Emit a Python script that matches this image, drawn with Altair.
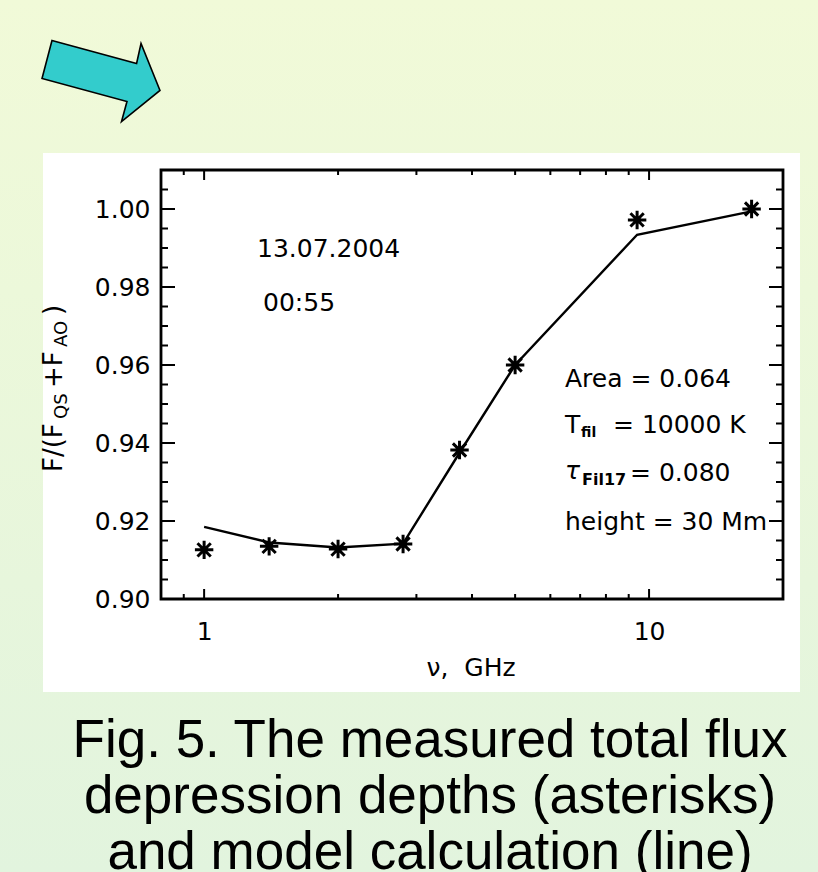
import altair as alt
import pandas as pd

# Observing frequencies, GHz
freq_ghz = [1.0, 1.4, 2.0, 2.8, 3.75, 5.0, 9.4, 17.0]
# Measured total flux depression F/(F_QS+F_AO) (asterisks)
measured = [0.9126, 0.9135, 0.9128, 0.9141, 0.9382, 0.9600, 0.9972, 1.0000]
# Model calculation (line)
model = [0.9185, 0.9145, 0.9132, 0.9142, 0.9375, 0.9600, 0.9934, 0.9994]

# Axis ticks
y_major_ticks = [0.90, 0.92, 0.94, 0.96, 0.98, 1.00]
y_minor_ticks = [0.905, 0.91, 0.915, 0.925, 0.93, 0.935, 0.945, 0.95, 0.955,
                 0.965, 0.97, 0.975, 0.985, 0.99, 0.995, 1.005]
x_major_ticks = [1, 10]
x_minor_ticks = [0.9, 2, 3, 4, 5, 6, 7, 8, 9]

# Caption lines
caption = [
    "Fig. 5. The measured total flux",
    "depression depths (asterisks)",
    "and model calculation (line)",
]

W, H = 622, 429
PAD = {"left": 161, "top": 170, "right": 35, "bottom": 273}
FONT = "DejaVu Sans"

xscale = alt.Scale(type="log", domain=[0.8, 20], nice=False)
yscale = alt.Scale(domain=[0.90, 1.01], nice=False, zero=False)

# Shared axes: labels only, ticks are drawn as inward rules below
x_axis = alt.Axis(values=x_major_ticks, format="d", ticks=False, domain=False,
                  grid=False, labelFont=FONT, labelFontSize=25,
                  labelColor="black", labelPadding=20, labelFlush=False,
                  title=None, zindex=1)
y_axis = alt.Axis(values=y_major_ticks, format=".2f", ticks=False,
                  domain=False, grid=False, labelFont=FONT, labelFontSize=25,
                  labelColor="black", labelPadding=11, title=None, zindex=1)

one = pd.DataFrame({"k": [0]})
df = pd.DataFrame({"freq": freq_ghz, "measured": measured, "model": model})

ARROW = ("M-0.817,-0.675L0.593,-0.292L0.667,-0.625L0.983,0.158"
         "L0.342,0.675L0.433,0.342L-0.983,-0.042Z")
ASTERISK = ("M0,-1L0,1M-1,0L1,0M-0.72,-0.72L0.72,0.72M-0.72,0.72L0.72,-0.72")


def text(t, x, y, size=25, weight="normal", align="left", font=FONT,
         angle=0, style="normal"):
    return alt.Chart(one).mark_text(
        text=t, font=font, fontSize=size, fontWeight=weight, fontStyle=style,
        align=align, baseline="alphabetic", angle=angle, color="black",
    ).encode(x=alt.value(x), y=alt.value(y))


# page background with soft vertical gradient
page_bg = alt.Chart(one).mark_rect(
    color=alt.Gradient(
        gradient="linear",
        stops=[alt.GradientStop(color="#F1FAD8", offset=0),
               alt.GradientStop(color="#E2F4DE", offset=1)],
        x1=0, x2=0, y1=0, y2=1,
    )
).encode(x=alt.value(-PAD["left"]), x2=alt.value(W + PAD["right"]),
         y=alt.value(-PAD["top"]), y2=alt.value(H + PAD["bottom"]))

arrow = alt.Chart(one).mark_point(
    shape=ARROW, filled=True, fill="#33CCCC", stroke="black",
    strokeWidth=1.6, size=14400, opacity=1,
).encode(x=alt.value(-60), y=alt.value(-89))

panel = alt.Chart(one).mark_rect(color="white").encode(
    x=alt.value(-118), x2=alt.value(639), y=alt.value(-17), y2=alt.value(522))

frame = alt.Chart(one).mark_rect(
    fillOpacity=0, stroke="black", strokeWidth=2.8
).encode(x=alt.value(0), x2=alt.value(W), y=alt.value(0), y2=alt.value(H))


def yticks(vals, x0, x1):
    return alt.Chart(pd.DataFrame({"v": vals})).mark_rule(
        color="black", strokeWidth=2
    ).encode(y=alt.Y("v:Q", scale=yscale, axis=y_axis),
             x=alt.value(x0), x2=alt.value(x1))


def xticks(vals, y0, y1):
    return alt.Chart(pd.DataFrame({"v": vals})).mark_rule(
        color="black", strokeWidth=2
    ).encode(x=alt.X("v:Q", scale=xscale, axis=x_axis),
             y=alt.value(y0), y2=alt.value(y1))


ticks = [
    yticks(y_major_ticks, 0, 14), yticks(y_minor_ticks, 0, 7),
    yticks(y_major_ticks, W, W - 14), yticks(y_minor_ticks, W, W - 7),
    xticks(x_major_ticks, H, H - 10), xticks(x_minor_ticks, H, H - 5),
    xticks(x_major_ticks, 0, 10), xticks(x_minor_ticks, 0, 5),
]

model_line = alt.Chart(df).mark_line(color="black", strokeWidth=2.4).encode(
    x=alt.X("freq:Q", scale=xscale, axis=x_axis),
    y=alt.Y("model:Q", scale=yscale, axis=y_axis),
)

points = alt.Chart(df).mark_point(
    shape=ASTERISK, filled=False, color="black", strokeWidth=3,
    size=340, opacity=1,
).encode(
    x=alt.X("freq:Q", scale=xscale, axis=x_axis),
    y=alt.Y("measured:Q", scale=yscale, axis=y_axis),
)

labels = [
    text("13.07.2004", 96, 87),
    text("00:55", 102, 141),
    text("Area = 0.064", 404, 217),
    text("T", 404, 263),
    text("fil", 420, 267, size=14, weight="bold"),
    text("= 10000 K", 452, 263),
    text("τ", 404, 309, style="italic"),
    text("Fil17", 421, 315, size=16, weight="bold"),
    text("= 0.080", 469, 311),
    text("height = 30 Mm", 404, 360),
    # x-axis title
    text("ν,\u00a0 GHz", 310, 506, align="center"),
    # y-axis title, rotated, built from normal and subscript parts
    text("F/(F", -99, 302, size=26, angle=270),
    text("QS", -94, 249, size=18, angle=270),
    text("+F", -99, 218, size=26, angle=270),
    text("AO", -94, 177, size=18, angle=270),
    text(")", -99, 145, size=26, angle=270),
]

captions = [
    text(line, 269, 587 + 56 * i, size=53, align="center",
         font="Liberation Sans")
    for i, line in enumerate(caption)
]

chart = alt.layer(
    page_bg, arrow, panel, *ticks, frame, model_line, points,
    *labels, *captions,
).properties(
    width=W, height=H, padding=PAD,
    autosize=alt.AutoSizeParams(type="none"),
    background="#E8F7DB",
).configure_view(stroke="transparent")

chart.save("out.html", embed_options={"renderer": "svg", "actions": False})
